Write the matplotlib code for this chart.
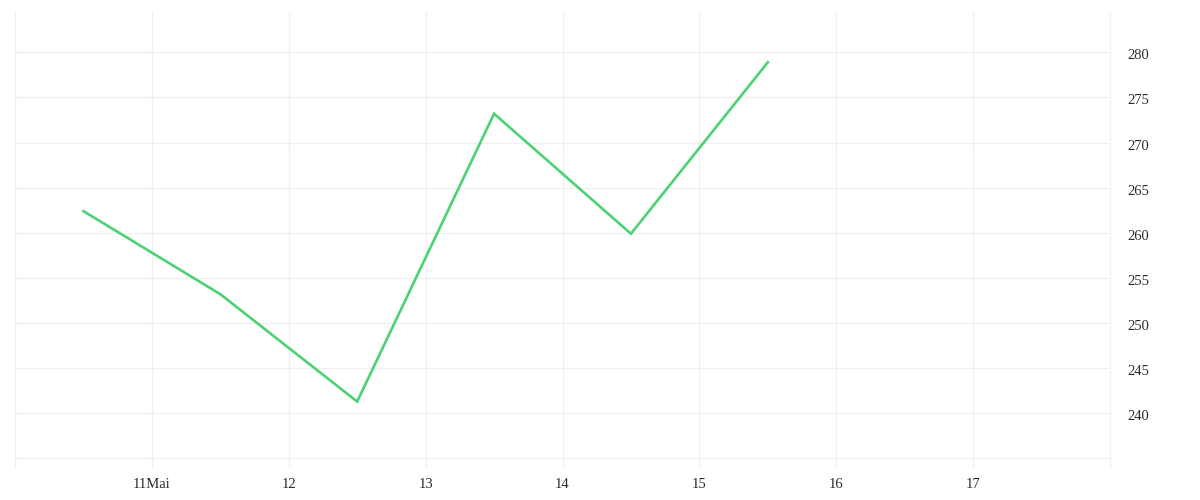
import matplotlib
matplotlib.use("Agg")
from matplotlib import pyplot as plt
from matplotlib import transforms

# day of month (points sit at midday), value
days = [10.5, 11.5, 12.5, 13.5, 14.5, 15.5]
values = [262.4, 253.2, 241.3, 273.2, 259.9, 278.9]

x_ticks = [11, 12, 13, 14, 15, 16, 17]
x_labels = ['11Mai', '12', '13', '14', '15', '16', '17']
y_ticks = [235, 240, 245, 250, 255, 260, 265, 270, 275, 280]
y_labels = ['', '240', '245', '250', '255', '260', '265', '270', '275', '280']

grid_col = '#efefef'
text_col = '#2b2b2b'

plt.rcParams['font.family'] = ['Liberation Serif', 'DejaVu Serif']

fig = plt.figure(figsize=(12, 5), dpi=100)
ax = fig.add_axes([0.0125, 0.064, 0.9125, 0.912])

ax.plot(days, values, color='#4cd274', linewidth=1.9, solid_joinstyle='miter')

ax.set_xlim(10, 18)
ax.set_ylim(233.94, 284.47)

ax.set_xticks(x_ticks)
ax.set_xticklabels(x_labels)
ax.set_yticks(y_ticks)
ax.set_yticklabels(y_labels)
ax.yaxis.tick_right()

ax.tick_params(axis='both', length=0, labelsize=10.5, colors=text_col)
ax.tick_params(axis='x', pad=7.5)
ax.tick_params(axis='y', pad=12.5)

# price labels sit a touch below their grid lines
shift = transforms.ScaledTranslation(0, -2 / 100, fig.dpi_scale_trans)
for lbl in ax.get_yticklabels():
    lbl.set_transform(lbl.get_transform() + shift)

ax.grid(True, color=grid_col, linewidth=0.85)
ax.set_axisbelow(True)

for side in ['top', 'bottom']:
    ax.spines[side].set_visible(False)
for side in ['left', 'right']:
    ax.spines[side].set_color(grid_col)
    ax.spines[side].set_linewidth(0.85)

plt.savefig('out.png', dpi=100, facecolor='white')
